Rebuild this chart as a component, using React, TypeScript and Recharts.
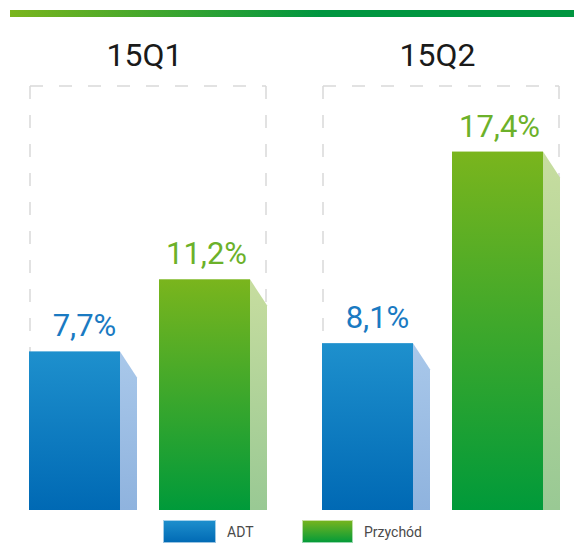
import { Bar, BarChart, LabelList, Legend, XAxis, YAxis } from "recharts";

const quarters = ["15Q1", "15Q2"];
const adtValues = [7.7, 8.1];
const revenueValues = [11.2, 17.4];
const seriesNames = { adt: "ADT", revenue: "Przychód" };

const data = quarters.map((q, i) => ({
  quarter: q,
  adt: adtValues[i],
  revenue: revenueValues[i],
}));

const FONT = "Roboto, 'Open Sans', sans-serif";
const BAR_W = 91;
const BAR_GAP = 39;
const SIDE_W = 17;
const SIDE_DROP = 26;

// dashed frame around a quarter group, open at the bottom
function Frame({ left, right, bottom }: { left: number; right: number; bottom: number }) {
  const top = 86;
  const dash = { stroke: "#d9d9d9", strokeWidth: 1.5, strokeDasharray: "13 16", fill: "none" };
  return (
    <g>
      <line x1={left} y1={top} x2={right} y2={top} {...dash} />
      <line x1={left} y1={top} x2={left} y2={bottom} {...dash} />
      <line x1={right} y1={top} x2={right} y2={bottom} {...dash} />
    </g>
  );
}

const makeShape = (front: string, side: string, withFrame: boolean) => (props: any) => {
  const { x, y, width, height } = props;
  if (!height || height <= 0) return null;
  const side_pts = [
    [x + width, y],
    [x + width + SIDE_W, y + SIDE_DROP],
    [x + width + SIDE_W, y + height],
    [x + width, y + height],
  ]
    .map((p) => p.join(","))
    .join(" ");
  return (
    <g>
      {withFrame && (
        <Frame left={x + 1} right={x + 2 * width + BAR_GAP + SIDE_W - 1} bottom={y + height} />
      )}
      <polygon points={side_pts} fill={`url(#${side})`} />
      <rect x={x} y={y} width={width} height={height} fill={`url(#${front})`} />
    </g>
  );
};

const makeLabel = (color: string, dx: number) => (props: any) => {
  const { x, y, width, value } = props;
  return (
    <text
      x={x + width / 2 + dx}
      y={y - 15}
      textAnchor="middle"
      fill={color}
      style={{ fontFamily: FONT, fontSize: 31 }}
    >
      {Number(value).toFixed(1).replace(".", ",")}%
    </text>
  );
};

function QuarterTick(props: any) {
  const { x, payload } = props;
  return (
    <text
      x={x + 5}
      y={66}
      textAnchor="middle"
      fill="#1a1a1a"
      style={{ fontFamily: FONT, fontSize: 32 }}
    >
      {payload.value}
    </text>
  );
}

function LegendContent() {
  const items = [
    { name: seriesNames.adt, g: "linear-gradient(#1e90cd, #0069b4)", w: 139 },
    { name: seriesNames.revenue, g: "linear-gradient(#7ab51d, #009a3a)", w: 120 },
  ];
  return (
    <div style={{ display: "flex", paddingLeft: 163, fontFamily: FONT }}>
      {items.map((it) => (
        <div key={it.name} style={{ display: "flex", alignItems: "center", width: it.w }}>
          <div
            style={{
              width: 53,
              height: 23,
              background: it.g,
              boxShadow: "0 0 0 1px rgba(255,255,255,0.6) inset",
            }}
          />
          <span style={{ marginLeft: 11, fontSize: 14, color: "#4a4a4a" }}>{it.name}</span>
        </div>
      ))}
    </div>
  );
}

export default function App() {
  return (
    <div
      style={{
        position: "absolute",
        left: 0,
        top: 0,
        width: 574,
        height: 555,
        background: "#fff",
      }}
    >
      <div
        style={{
          position: "absolute",
          left: 10,
          top: 10,
          width: 564,
          height: 7,
          background: "linear-gradient(to right, #7ab51d 0%, #009640 55%, #009640 100%)",
        }}
      />
      <BarChart
        width={574}
        height={555}
        data={data}
        margin={{ top: 98, right: -5, left: -7, bottom: 15 }}
        barSize={BAR_W}
        barGap={BAR_GAP}
      >
        <defs>
          <linearGradient id="blueFront" x1="0" y1="0" x2="0" y2="1">
            <stop offset="0%" stopColor="#1e90cd" />
            <stop offset="100%" stopColor="#0069b4" />
          </linearGradient>
          <linearGradient id="blueSide" x1="0" y1="0" x2="0" y2="1">
            <stop offset="0%" stopColor="#a9c8ea" />
            <stop offset="100%" stopColor="#8fb3de" />
          </linearGradient>
          <linearGradient id="greenFront" x1="0" y1="0" x2="0" y2="1">
            <stop offset="0%" stopColor="#7ab51d" />
            <stop offset="100%" stopColor="#009a3a" />
          </linearGradient>
          <linearGradient id="greenSide" x1="0" y1="0" x2="0" y2="1">
            <stop offset="0%" stopColor="#c7dd9f" />
            <stop offset="100%" stopColor="#99c994" />
          </linearGradient>
        </defs>
        <XAxis
          dataKey="quarter"
          height={30}
          axisLine={false}
          tickLine={false}
          tick={<QuarterTick />}
          interval={0}
        />
        <YAxis hide domain={[0, 20]} />
        <Legend
          layout="horizontal"
          verticalAlign="middle"
          align="center"
          content={<LegendContent />}
          wrapperStyle={{ top: 520, left: 0, width: 574, height: 23 }}
        />
        <Bar
          dataKey="adt"
          name={seriesNames.adt}
          isAnimationActive={false}
          shape={makeShape("blueFront", "blueSide", true)}
        >
          <LabelList dataKey="adt" content={makeLabel("#1a7ac2", 10)} />
        </Bar>
        <Bar
          dataKey="revenue"
          name={seriesNames.revenue}
          isAnimationActive={false}
          shape={makeShape("greenFront", "greenSide", false)}
        >
          <LabelList dataKey="revenue" content={makeLabel("#6cb12a", 2)} />
        </Bar>
      </BarChart>
    </div>
  );
}
